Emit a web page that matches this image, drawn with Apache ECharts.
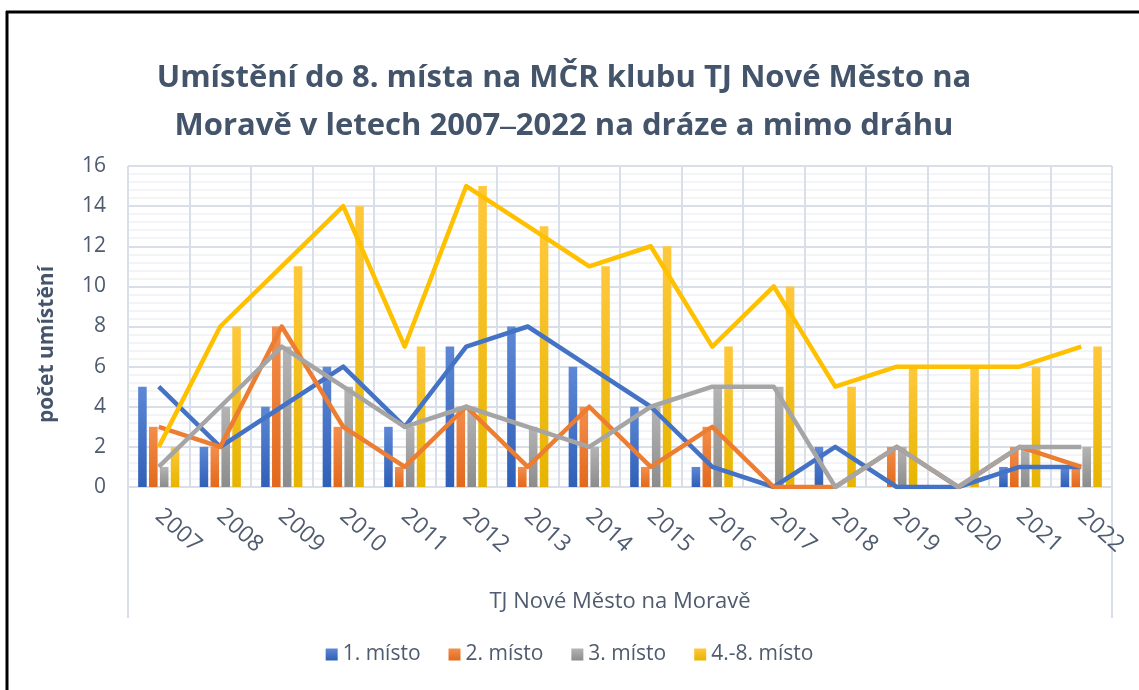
<!DOCTYPE html>
<html>
<head>
<meta charset="utf-8">
<script src="https://cdn.jsdelivr.net/npm/echarts@6/dist/echarts.min.js"></script>
<style>
  html, body { margin: 0; padding: 0; background: #fff; }
  #main { width: 1139px; height: 690px; }
</style>
</head>
<body>
<div id="main"></div>
<script>
const years = ['2007', '2008', '2009', '2010', '2011', '2012', '2013', '2014',
    '2015', '2016', '2017', '2018', '2019', '2020', '2021', '2022'];
const yTicks = [0, 2, 4, 6, 8, 10, 12, 14, 16];
const first = [5, 2, 4, 6, 3, 7, 8, 6, 4, 1, 0, 2, 0, 0, 1, 1];
const second = [3, 2, 8, 3, 1, 4, 1, 4, 1, 3, 0, 0, 2, 0, 2, 1];
const third = [1, 4, 7, 5, 3, 4, 3, 2, 4, 5, 5, 0, 2, 0, 2, 2];
const fourthToEighth = [2, 8, 11, 14, 7, 15, 13, 11, 12, 7, 10, 5, 6, 6, 6, 7];
const names = ['1. místo', '2. místo', '3. místo', '4.-8. místo'];

const textColor = '#4F5B6E';
const gridColor = '#D9DFE8';

const palette = [
    { line: '#4472C4', top: '#5E88D6', bottom: '#2F5FB7' },
    { line: '#ED7D31', top: '#F38E4C', bottom: '#E2691C' },
    { line: '#A5A5A5', top: '#B4B4B4', bottom: '#8C8C8C' },
    { line: '#FFC000', top: '#FFC83C', bottom: '#E6B400' }
];
const values = [first, second, third, fourthToEighth];

const grad = (c) => new echarts.graphic.LinearGradient(0, 0, 0, 1, [
    { offset: 0, color: c.top },
    { offset: 1, color: c.bottom }
]);

const barSeries = values.map((v, i) => ({
    name: names[i],
    type: 'bar',
    data: v,
    barGap: '27%',
    barCategoryGap: '33%',
    itemStyle: { color: grad(palette[i]) },
    z: 2
}));

// same values again as lines, drawn over the bars
const lineSeries = values.map((v, i) => ({
    name: names[i],
    type: 'line',
    data: v,
    symbol: 'none',
    lineStyle: { color: palette[i].line, width: 4.5, join: 'round' },
    itemStyle: { color: palette[i].line },
    z: 3
}));

const myChart = echarts.init(document.getElementById('main'));
const option = {
    animation: false,
    backgroundColor: '#fff',
    title: {
        text: 'Umístění do 8. místa na MČR klubu TJ Nové Město na\nMoravě v letech 2007‒2022 na dráze a mimo dráhu',
        left: 559,
        top: 49,
        textAlign: 'center',
        textStyle: {
            fontFamily: 'Open Sans',
            fontSize: 31,
            fontWeight: 'bold',
            color: '#44546A',
            lineHeight: 48
        }
    },
    legend: {
        bottom: 20,
        left: 'center',
        itemWidth: 12,
        itemHeight: 12,
        itemGap: 28,
        icon: 'rect',
        data: names,
        textStyle: { fontFamily: 'Open Sans', fontSize: 21, color: textColor }
    },
    grid: { left: 128, right: 27, top: 166, bottom: 203 },
    xAxis: [
        {
            type: 'category',
            data: years,
            name: 'TJ Nové Město na Moravě',
            nameLocation: 'middle',
            nameGap: 104,
            nameTextStyle: { fontFamily: 'Open Sans', fontSize: 22, color: textColor },
            axisLine: { lineStyle: { color: gridColor, width: 2 } },
            axisTick: { show: false },
            axisLabel: {
                rotate: -42,
                margin: 26,
                fontFamily: 'Open Sans',
                fontSize: 23,
                color: textColor
            },
            splitLine: { show: true, lineStyle: { color: gridColor, width: 2 } }
        },
        {
            type: 'value',
            min: 0,
            max: 16,
            interval: 0.5,
            show: false,
            splitLine: { show: true, lineStyle: { color: '#E9EDF2', width: 2 } }
        }
    ],
    yAxis: {
        type: 'value',
        min: yTicks[0],
        max: yTicks[yTicks.length - 1],
        interval: 2,
        name: 'počet umístění',
        nameLocation: 'middle',
        nameGap: 70,
        nameTextStyle: {
            fontFamily: 'Open Sans',
            fontSize: 21,
            fontWeight: 'bold',
            color: '#44546A',
            padding: [0, 36, 0, 0]
        },
        axisLine: { show: false },
        axisTick: { show: false },
        axisLabel: { margin: 22, fontFamily: 'Open Sans', fontSize: 21, color: textColor },
        splitLine: { lineStyle: { color: gridColor, width: 2 } },
        minorTick: { show: false, splitNumber: 5 },
        minorSplitLine: { show: true, lineStyle: { color: '#EEF1F5', width: 1.5 } }
    },
    graphic: [
        { type: 'line', shape: { x1: 128, y1: 166, x2: 128, y2: 618 }, style: { stroke: gridColor, lineWidth: 2 } },
        { type: 'line', shape: { x1: 1112, y1: 166, x2: 1112, y2: 618 }, style: { stroke: gridColor, lineWidth: 2 } },
        { type: 'line', shape: { x1: 6, y1: 12, x2: 1139, y2: 12 }, style: { stroke: '#000', lineWidth: 3 } },
        { type: 'line', shape: { x1: 7, y1: 11, x2: 7, y2: 690 }, style: { stroke: '#000', lineWidth: 3 } }
    ],
    series: barSeries.concat(lineSeries)
};
myChart.setOption(option);
</script>
</body>
</html>
